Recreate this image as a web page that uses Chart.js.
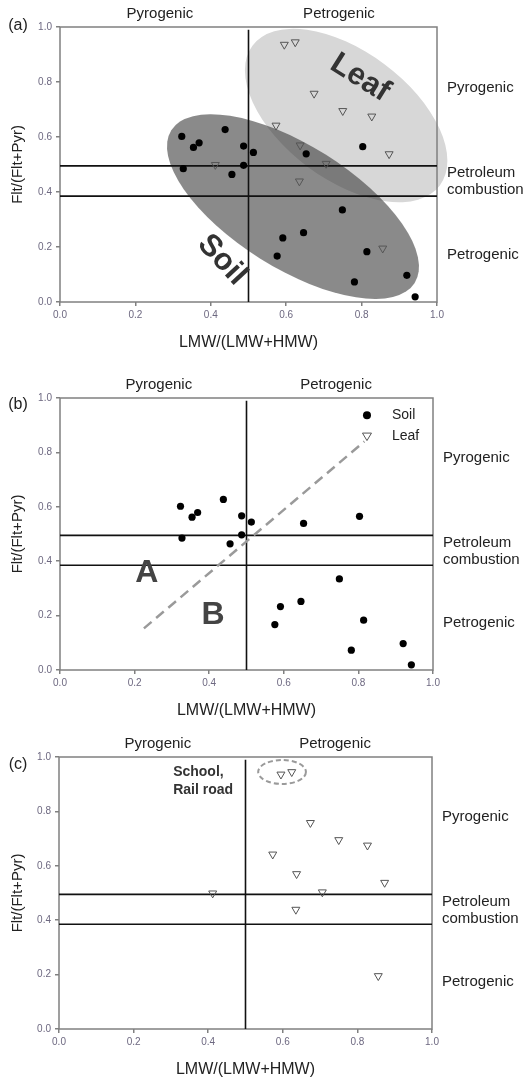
<!DOCTYPE html>
<html>
<head>
<meta charset="utf-8">
<script src="https://cdn.jsdelivr.net/npm/chart.js@4.4.0/dist/chart.umd.min.js"></script>
<style>
  html, body { margin: 0; padding: 0; background: #fff; }
  #wrap { position: relative; width: 531px; height: 1078px; }
  canvas { position: absolute; left: 0; }
</style>
</head>
<body>
<div id="wrap">
  <canvas id="ca" width="531" height="360" style="top:0"></canvas>
  <canvas id="cb" width="531" height="360" style="top:360px"></canvas>
  <canvas id="cc" width="531" height="358" style="top:720px"></canvas>
</div>
<script>
/* ---------- data ---------- */
var soilX = [0.323, 0.354, 0.369, 0.438, 0.487, 0.513, 0.327, 0.456, 0.487, 0.653,
             0.803, 0.749, 0.646, 0.591, 0.576, 0.814, 0.781, 0.920, 0.942];
var soilY = [0.602, 0.562, 0.579, 0.627, 0.567, 0.544, 0.485, 0.464, 0.497, 0.539,
             0.565, 0.335, 0.252, 0.233, 0.167, 0.183, 0.073, 0.097, 0.019];
var leafX = [0.595, 0.624, 0.674, 0.750, 0.827, 0.573, 0.637, 0.873, 0.412, 0.706, 0.635, 0.856];
var leafY = [0.936, 0.945, 0.758, 0.695, 0.675, 0.642, 0.570, 0.538, 0.499, 0.503, 0.439, 0.195];

var xTicks = [0, 0.2, 0.4, 0.6, 0.8, 1.0];
var yTicks = [0, 0.2, 0.4, 0.6, 0.8, 1.0];
var cutX = 0.5;                 // LMW/(LMW+HMW) boundary
var cutY = [0.385, 0.495];      // Flt/(Flt+Pyr) boundaries
var sideLabels = ['Pyrogenic', 'Petroleum', 'combustion', 'Petrogenic'];
var sideY = [0.78, 0.468, 0.406, 0.172];
var topLabels = ['Pyrogenic', 'Petrogenic'];
var topX = [0.265, 0.74];
var trendX = [0.225, 0.816];    // dashed guide, panel (b)
var trendY = [0.153, 0.840];

var FONT = '"Liberation Sans", Arial, sans-serif';
var FRAME = '#808080';
var TICKC = '#6d6880';

function pts(xs, ys) { return xs.map(function (x, i) { return { x: x, y: ys[i] }; }); }

function soilSet() {
  return { data: pts(soilX, soilY), pointStyle: 'circle', pointRadius: 3.6,
           backgroundColor: '#000', borderWidth: 0, order: 0 };
}
function leafSet() {
  return { data: pts(leafX, leafY), pointStyle: 'triangle', rotation: 180, pointRadius: 4.6,
           backgroundColor: 'rgba(0,0,0,0)', borderColor: '#555', borderWidth: 1, order: 0 };
}
function guideSets() {
  var out = cutY.map(function (y) {
    return { data: [{ x: 0, y: y }, { x: 1, y: y }], showLine: true, borderColor: '#111',
             borderWidth: 1.6, pointRadius: 0, order: 5 };
  });
  out.push({ data: [{ x: cutX, y: 0 }, { x: cutX, y: 0.99 }], showLine: true, borderColor: '#111',
             borderWidth: 1.6, pointRadius: 0, order: 5 });
  return out;
}

function txt(ctx, t, x, y, font, color, align, rot) {
  ctx.save();
  ctx.translate(x, y);
  if (rot) ctx.rotate(rot * Math.PI / 180);
  ctx.font = font; ctx.fillStyle = color;
  ctx.textAlign = align || 'center'; ctx.textBaseline = 'middle';
  ctx.fillText(t, 0, 0);
  ctx.restore();
}

/* ---------- decorations: ellipses, frame, labels ---------- */
var deco = {
  id: 'deco',
  beforeDatasetsDraw: function (chart, args, o) {
    var ctx = chart.ctx, xs = chart.scales.x, ys = chart.scales.y, a = chart.chartArea;
    var unit = xs.getPixelForValue(1) - xs.getPixelForValue(0);
    ctx.save();
    (o.blobs || []).forEach(function (e) {
      ctx.beginPath();
      ctx.ellipse(xs.getPixelForValue(e.cx), ys.getPixelForValue(e.cy), e.a * unit, e.b * unit,
                  e.rot * Math.PI / 180, 0, Math.PI * 2);
      ctx.fillStyle = e.fill;
      ctx.fill();
    });
    ctx.strokeStyle = FRAME; ctx.lineWidth = 1.5;
    ctx.strokeRect(a.left, a.top, a.right - a.left, a.bottom - a.top);
    ctx.restore();
  },
  afterDatasetsDraw: function (chart, args, o) {
    var ctx = chart.ctx, xs = chart.scales.x, ys = chart.scales.y;
    ctx.save();
    (o.rings || []).forEach(function (r) {
      var cx = xs.getPixelForValue(r.cx), cy = ys.getPixelForValue(r.cy);
      var rx = xs.getPixelForValue(r.cx + r.rx) - cx, ry = cy - ys.getPixelForValue(r.cy + r.ry);
      ctx.beginPath();
      ctx.setLineDash([5, 3]);
      ctx.ellipse(cx, cy, rx, ry, 0, 0, Math.PI * 2);
      ctx.strokeStyle = '#9a9a9a'; ctx.lineWidth = 2;
      ctx.stroke();
      ctx.setLineDash([]);
    });
    if (o.legend) {
      var lx = xs.getPixelForValue(o.legend.x);
      var y1 = ys.getPixelForValue(o.legend.y[0]), y2 = ys.getPixelForValue(o.legend.y[1]);
      ctx.beginPath(); ctx.arc(lx, y1, 4, 0, Math.PI * 2); ctx.fillStyle = '#000'; ctx.fill();
      ctx.beginPath();
      ctx.moveTo(lx - 4.5, y2 - 3); ctx.lineTo(lx + 4.5, y2 - 3); ctx.lineTo(lx, y2 + 4.5); ctx.closePath();
      ctx.strokeStyle = '#555'; ctx.lineWidth = 1; ctx.stroke();
      txt(ctx, 'Soil', lx + 25, y1, '14px ' + FONT, '#222', 'left');
      txt(ctx, 'Leaf', lx + 25, y2, '14px ' + FONT, '#222', 'left');
    }
    (o.notes || []).forEach(function (n) {
      txt(ctx, n.t, xs.getPixelForValue(n.x), ys.getPixelForValue(n.y), n.font, n.color, n.align, n.rot);
    });
    ctx.restore();
  },
  afterDraw: function (chart, args, o) {
    var ctx = chart.ctx, xs = chart.scales.x, ys = chart.scales.y, a = chart.chartArea;
    txt(ctx, o.tag, 18, o.tagY, '16px ' + FONT, '#222', 'center');
    topLabels.forEach(function (t, i) {
      txt(ctx, t, xs.getPixelForValue(topX[i]), a.top - 13, '15px ' + FONT, '#222', 'center');
    });
    sideLabels.forEach(function (t, i) {
      txt(ctx, t, a.right + 10, ys.getPixelForValue(sideY[i]), '15px ' + FONT, '#222', 'left');
    });
    txt(ctx, 'Flt/(Flt+Pyr)', 18, (a.top + a.bottom) / 2, '15px ' + FONT, '#222', 'center', -90);
    txt(ctx, 'LMW/(LMW+HMW)', (a.left + a.right) / 2, a.bottom + 41, '16px ' + FONT, '#222', 'center');
  }
};

function axis(ticks, fit, horizontal) {
  return {
    type: 'linear', min: 0, max: 1,
    afterBuildTicks: function (s) { s.ticks = ticks.map(function (v) { return { value: v }; }); },
    afterFit: function (s) { if (horizontal) s.height = fit; else s.width = fit; },
    ticks: { color: TICKC, font: { family: FONT, size: 10 }, padding: horizontal ? 3 : 4,
             callback: function (v) { return v.toFixed(1); } },
    grid: { drawOnChartArea: false, drawTicks: true, tickLength: 4, color: FRAME, lineWidth: 1.5 },
    border: { display: false }
  };
}

function panel(id, cfg) {
  return new Chart(document.getElementById(id), {
    type: 'scatter',
    data: { datasets: cfg.sets },
    options: {
      responsive: false, animation: false,
      layout: { padding: { top: cfg.top, right: cfg.right, left: 0, bottom: 0 } },
      scales: { x: axis(xTicks, cfg.xh, true), y: axis(yTicks, cfg.yw, false) },
      plugins: { legend: { display: false }, tooltip: { enabled: false }, deco: cfg.deco }
    },
    plugins: [deco]
  });
}

/* (a) soil + leaf with grouping ellipses */
panel('ca', {
  top: 27, right: 94, xh: 58, yw: 60,
  sets: [soilSet(), leafSet()].concat(guideSets()),
  deco: {
    tag: '(a)', tagY: 26,
    blobs: [
      { cx: 0.759, cy: 0.678, a: 0.31, b: 0.17, rot: 36.7, fill: 'rgb(215,215,215)' },
      { cx: 0.618, cy: 0.347, a: 0.381, b: 0.163, rot: 32.1, fill: 'rgba(60,60,60,0.6)' }
    ],
    notes: [
      { t: 'Leaf', x: 0.796, y: 0.815, font: 'bold 31px ' + FONT, color: '#333', rot: 32 },
      { t: 'Soil', x: 0.43, y: 0.153, font: 'bold 31px ' + FONT, color: '#333', rot: 47 }
    ]
  }
});

/* (b) soil only, with A/B guide */
var trend = { data: pts(trendX, trendY), showLine: true, borderColor: '#9a9a9a', borderWidth: 2.5,
              borderDash: [10, 6], pointRadius: 0, order: 3 };
panel('cb', {
  top: 38, right: 98, xh: 50, yw: 60,
  sets: [soilSet(), trend].concat(guideSets()),
  deco: {
    tag: '(b)', tagY: 45,
    legend: { x: 0.823, y: [0.937, 0.86] },
    notes: [
      { t: 'A', x: 0.233, y: 0.357, font: 'bold 32px ' + FONT, color: '#444' },
      { t: 'B', x: 0.41, y: 0.202, font: 'bold 32px ' + FONT, color: '#444' }
    ]
  }
});

/* (c) leaf only */
panel('cc', {
  top: 37, right: 99, xh: 49, yw: 59,
  sets: [leafSet()].concat(guideSets()),
  deco: {
    tag: '(c)', tagY: 45,
    rings: [{ cx: 0.598, cy: 0.945, rx: 0.064, ry: 0.044 }],
    notes: [
      { t: 'School,', x: 0.306, y: 0.945, font: 'bold 14px ' + FONT, color: '#333', align: 'left' },
      { t: 'Rail road', x: 0.306, y: 0.879, font: 'bold 14px ' + FONT, color: '#333', align: 'left' }
    ]
  }
});
</script>
</body>
</html>
